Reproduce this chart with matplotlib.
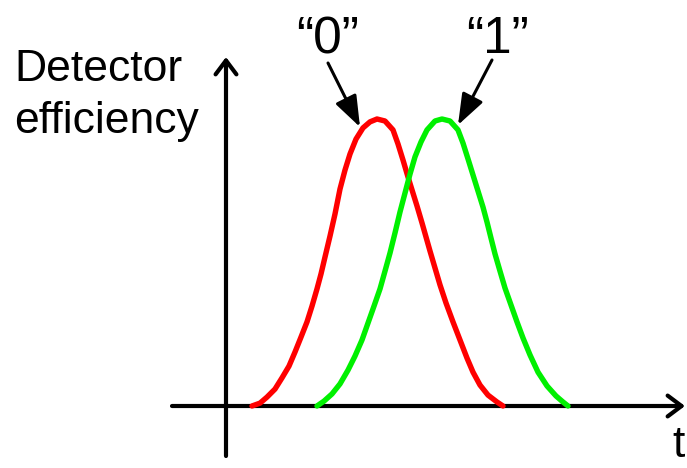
import matplotlib
matplotlib.use("Agg")
import matplotlib.pyplot as plt

plt.rcParams['font.family'] = ['Liberation Sans', 'DejaVu Sans']

# Detector efficiency vs time for the two time bins ("0" and "1")
t_red = [26, 34, 41, 49, 56, 63, 69, 75, 81, 86, 91, 95, 99, 104, 109, 114,
         119, 124, 130, 137, 144, 151, 159, 167, 172, 177, 182, 186, 191,
         196, 200, 204, 209, 214, 220, 227, 234, 241, 247, 254, 262, 271, 277]
eff_red = [0.0, 0.010, 0.031, 0.059, 0.098, 0.139, 0.188, 0.240, 0.293, 0.348,
           0.408, 0.460, 0.519, 0.592, 0.669, 0.756, 0.822, 0.878, 0.930,
           0.969, 0.990, 1.0, 0.993, 0.962, 0.913, 0.857, 0.798, 0.753, 0.697,
           0.638, 0.589, 0.540, 0.481, 0.422, 0.359, 0.293, 0.230, 0.167,
           0.118, 0.073, 0.038, 0.014, 0.0]

t_green = [91, 98, 106, 114, 122, 129, 136, 142, 148, 154, 159, 164, 169, 174,
           179, 184, 189, 195, 201, 209, 216, 224, 232, 237, 242, 247, 252,
           257, 261, 265, 269, 274, 279, 285, 291, 297, 304, 312, 321, 330,
           337, 342]
eff_green = [0.0, 0.017, 0.042, 0.077, 0.125, 0.174, 0.230, 0.289, 0.348,
             0.408, 0.470, 0.533, 0.603, 0.676, 0.742, 0.808, 0.868, 0.920,
             0.962, 0.993, 1.0, 0.993, 0.962, 0.916, 0.861, 0.805, 0.749,
             0.693, 0.641, 0.585, 0.530, 0.470, 0.411, 0.352, 0.293, 0.237,
             0.178, 0.118, 0.070, 0.035, 0.014, 0.0]

bin_labels = ["\u201c0\u201d", "\u201c1\u201d"]
y_label_lines = ["Detector", "efficiency"]
x_label = "t"

W, H = 687, 468
fig = plt.figure(figsize=(W / 100, H / 100), dpi=100)
ax = fig.add_axes([0, 0, 1, 1])
ax.set_axis_off()

# data frame: origin of axes at pixel (226, 406), unit height 287 px
X0, Y0, SY = 226, 406, 287
ax.set_xlim(-X0, W - X0)
ax.set_ylim((Y0 - H) / SY, Y0 / SY)


def px(x, y):
    return x - X0, (Y0 - y) / SY


# axes with open arrowheads
axis_style = dict(arrowstyle='->,head_length=10,head_width=7.5',
                  mutation_scale=1, lw=3.0, color='black',
                  shrinkA=0, shrinkB=0)
ax.annotate('', xy=px(226, 57), xytext=px(226, 456), arrowprops=axis_style)
ax.annotate('', xy=px(685, 406), xytext=px(172, 406), arrowprops=axis_style)

# efficiency curves
ax.plot(t_red, eff_red, color='#ff0000', lw=3.9, solid_capstyle='round',
        solid_joinstyle='round', zorder=3)
ax.plot(t_green, eff_green, color='#00f000', lw=3.9, solid_capstyle='round',
        solid_joinstyle='round', zorder=3)

# axis titles
fig.text(14 / W, 1 - 81 / H, y_label_lines[0], fontsize=32, va='baseline',
         ha='left')
fig.text(14 / W, 1 - 133 / H, y_label_lines[1], fontsize=32, va='baseline',
         ha='left')
fig.text(685 / W, 1 - 457 / H, x_label, fontsize=32, va='baseline', ha='right')

# bin labels with pointer arrows
ptr_style = dict(arrowstyle='-|>,head_length=19,head_width=7',
                 mutation_scale=1, lw=2.2, color='black',
                 shrinkA=0, shrinkB=0)
fig.text(328 / W, 1 - 53 / H, bin_labels[0], fontsize=37, ha='center',
         va='baseline')
fig.text(497 / W, 1 - 53 / H, bin_labels[1], fontsize=37, ha='center',
         va='baseline')
ax.annotate('', xy=px(360, 127), xytext=px(328, 63), arrowprops=ptr_style)
ax.annotate('', xy=px(458, 125), xytext=px(492, 60), arrowprops=ptr_style)

fig.savefig('out.png', dpi=100)
